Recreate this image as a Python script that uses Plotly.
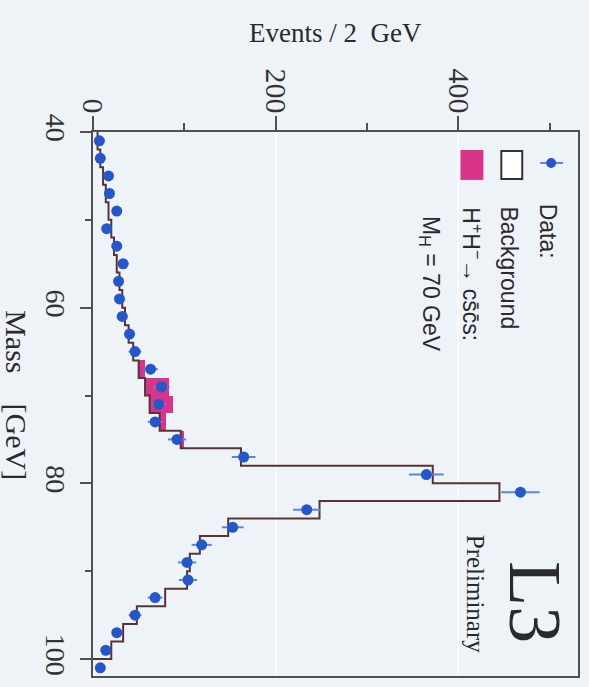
import plotly.graph_objects as go

# ---------------- data ----------------
mass_edges = [40, 42, 44, 46, 48, 50, 52, 54, 56, 58, 60, 62, 64, 66, 68, 70, 72, 74, 76, 78,
              80, 82, 84, 86, 88, 90, 92, 94, 96, 98, 100]
background = [5, 8, 11, 14, 17, 20, 23, 26, 29, 32, 35, 39, 44, 50, 57, 62, 73, 96, 162, 372,
              445, 248, 148, 117, 106, 103, 79, 48, 33, 20]
signal = [0, 0, 0, 0, 0, 0, 0, 0, 0, 0, 0, 0, 0, 7, 26, 26, 7, 4, 0, 0,
          0, 0, 0, 0, 0, 0, 0, 0, 0, 0]
data_mass = [41, 43, 45, 47, 49, 51, 53, 55, 57, 59, 61, 63, 65, 67, 69, 71, 73, 75, 77, 79,
             81, 83, 85, 87, 89, 91, 93, 95, 97, 99, 101]
data_events = [7, 8, 17, 18, 26, 15, 26, 33, 28, 29, 32, 40, 46, 63, 75, 72, 68, 92, 165, 365,
               468, 234, 153, 119, 103, 104, 68, 46, 26, 14, 8]
data_err = [3, 3, 4, 4, 5, 4, 5, 6, 5, 5, 6, 6, 7, 8, 9, 8, 8, 10, 13, 19,
            21, 15, 12, 11, 10, 10, 8, 7, 5, 4, 3]
event_ticks = [0, 200, 400]
mass_ticks = [40, 60, 80, 100]

BG = "#eef3f8"
BLUE = "#2557c9"
PINK = "#d8358a"
FRAME = "#505050"

# pixel -> paper helpers (plot area: x 93..580, y 132..677)
L, R, T, B = 93, 580, 132, 677
def PX(px):
    return (px - L) / (R - L)
def PY(py):
    return (B - py) / (B - T)

centers = [(a + b) / 2 for a, b in zip(mass_edges[:-1], mass_edges[1:])]

# background step outline
step_x, step_y = [], []
for i, v in enumerate(background):
    step_x += [v, v]
    step_y += [mass_edges[i], mass_edges[i + 1]]
step_x.append(0)
step_y.append(mass_edges[-1])

fig = go.Figure()
fig.add_trace(go.Bar(orientation="h", y=centers, x=signal, base=background, width=2,
                     marker=dict(color=PINK, line=dict(width=0)), showlegend=False))
fig.add_trace(go.Scatter(x=step_x, y=step_y, mode="lines",
                         line=dict(color="#5a3434", width=2), showlegend=False))
fig.add_trace(go.Scatter(x=data_events, y=data_mass, mode="markers",
                         marker=dict(color=BLUE, size=11),
                         error_x=dict(type="data", array=data_err, color="#5b86e0",
                                      thickness=2, width=0),
                         showlegend=False))

fig.update_layout(
    width=589, height=687,
    margin=dict(l=L, r=589 - R, t=T, b=687 - B),
    paper_bgcolor=BG, plot_bgcolor=BG,
    bargap=0,
    xaxis=dict(range=[0, 531], side="top", tickvals=event_ticks, ticks="outside",
               ticklen=14, tickwidth=1.5, tickcolor=FRAME, tickangle=90,
               ticklabelstandoff=-8,
               minor=dict(dtick=100, tick0=0, ticks="outside", ticklen=7, tickcolor=FRAME),
               tickfont=dict(family="Liberation Serif", size=30, color="#333333"),
               showline=True, linecolor=FRAME, linewidth=2, mirror=True,
               showgrid=True, gridcolor="#f6f9fd", gridwidth=2, zeroline=False),
    yaxis=dict(range=[101.93, 40], tickvals=mass_ticks, ticks="outside",
               ticklen=11, tickwidth=1.5, tickcolor=FRAME, tickangle=90,
               minor=dict(dtick=10, tick0=40, ticks="outside", ticklen=6, tickcolor=FRAME),
               tickfont=dict(family="Liberation Serif", size=28, color="#333333"),
               showline=True, linecolor=FRAME, linewidth=2, mirror=True,
               showgrid=False, zeroline=False),
)

serif = "Liberation Serif"
sans = "Liberation Sans"
ann = [
    dict(text="Events / 2  GeV", x=PX(336), y=PY(33), font=dict(family=serif, size=27), textangle=0),
    dict(text="Mass    [GeV]", x=PX(16), y=PY(396), font=dict(family=serif, size=30), textangle=90),
    dict(text="Data:", x=PX(550), y=PY(231), font=dict(family=sans, size=23), textangle=90),
    dict(text="Background", x=PX(511), y=PY(268), font=dict(family=sans, size=23), textangle=90),
    dict(text="H<sup>+</sup>H<sup>−</sup>→ cs̄c̄s:", x=PX(474), y=PY(275), font=dict(family=sans, size=23), textangle=90),
    dict(text="M<sub>H</sub> = 70 GeV", x=PX(431), y=PY(284), font=dict(family=sans, size=23), textangle=90),
    dict(text="Preliminary", x=PX(477), y=PY(595), font=dict(family=serif, size=25), textangle=90),
    dict(text="L3", x=PX(537), y=PY(603), font=dict(family=serif, size=74), textangle=90),
]
for a in ann:
    fig.add_annotation(xref="paper", yref="paper", showarrow=False,
                       xanchor="center", yanchor="middle",
                       font_color="#2a2a2a", **a)

# legend symbols
fig.add_shape(type="line", xref="paper", yref="paper", x0=PX(542), x1=PX(565), y0=PY(163), y1=PY(163),
              line=dict(color="#5b86e0", width=2))
fig.add_shape(type="circle", xref="paper", yref="paper", x0=PX(548), x1=PX(558), y0=PY(158), y1=PY(168),
              fillcolor=BLUE, line=dict(color=BLUE, width=0))
fig.add_shape(type="rect", xref="paper", yref="paper", x0=PX(503), x1=PX(524), y0=PY(151), y1=PY(179),
              fillcolor="white", line=dict(color="#333333", width=2))
fig.add_shape(type="rect", xref="paper", yref="paper", x0=PX(462), x1=PX(485), y0=PY(150), y1=PY(180),
              fillcolor=PINK, line=dict(width=0))

fig.write_html("out.html")
